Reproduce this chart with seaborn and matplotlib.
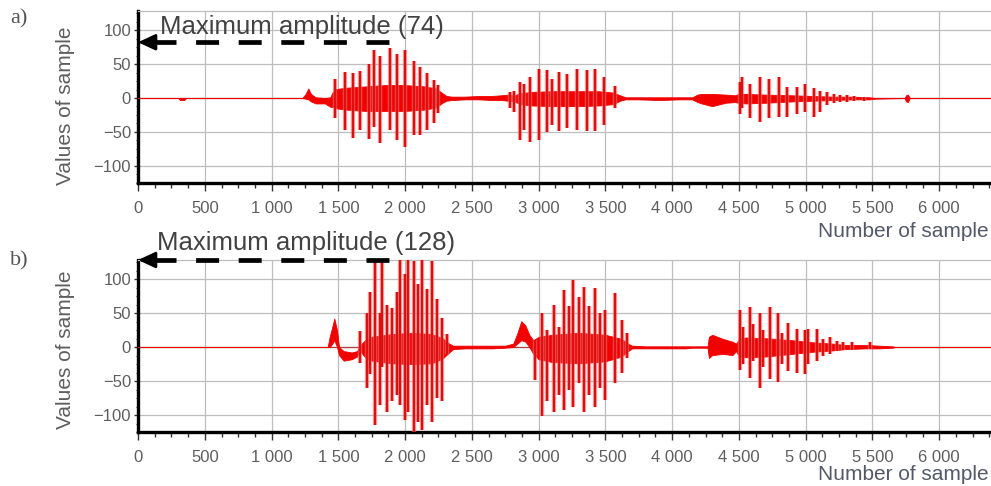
"""Two waveform panels (a, b) with the maximum amplitude marked."""
import numpy as np
import pandas as pd

import seaborn as sns
import matplotlib.pyplot as plt
from matplotlib.ticker import MultipleLocator, FuncFormatter

sns.set_theme(style="white")
plt.rcParams["font.family"] = ["Liberation Sans", "DejaVu Sans"]


# ---- panel a ----
A_SPIKE_X = [1476, 1551, 1613, 1663, 1726, 1764, 1813, 1888, 1938, 2000, 2063, 2113, 2163, 2213, 2250,
             2787, 2812, 2862, 2887, 2937, 2999, 3062, 3100, 3150, 3212, 3287, 3362, 3425, 3487, 3574,
             4510, 4522, 4585, 4660, 4722, 4797, 4860, 4935, 4997, 5060, 5110, 5160, 5210, 5260, 5310, 5360, 5435]
A_SPIKE_HI = [28, 38, 37, 40, 50, 70, 62, 74, 65, 70, 55, 45, 37, 26, 19,
              9, 11, 23, 21, 31, 43, 41, 28, 38, 36, 43, 41, 43, 31, 17,
              23, 31, 21, 31, 28, 31, 16, 16, 21, 14, 11, 9, 6, 4, 4, 3, 2]
A_SPIKE_LO = [-30, -47, -59, -47, -61, -43, -66, -47, -62, -72, -55, -55, -47, -37, -22,
              -15, -21, -62, -47, -64, -62, -50, -40, -48, -44, -47, -48, -48, -40, -15,
              -23, -15, -30, -35, -30, -28, -28, -23, -20, -28, -20, -11, -8, -6, -6, -5, -4]

A_ENV_X = [0, 300, 315, 345, 360, 1230, 1255, 1275, 1295, 1330, 1400, 1440, 1455, 1480, 1550,
           1700, 1850, 2000, 2150, 2230, 2280, 2310, 2350, 2450, 2550, 2650, 2720, 2770, 2820, 2860,
           2950, 3100, 3300, 3450, 3560, 3610, 3650, 3750, 3900, 4050, 4150, 4190, 4220, 4300, 4400,
           4470, 4500, 4550, 4700, 4900, 5050, 5200, 5350, 5480, 5520, 5740, 5752, 5765, 5780, 6400]
A_ENV_HI = [0, 0, 0, 0, 0, 0, 6, 14, 6, 1, 0, 1, 8, 13, 15,
            17, 19, 19, 17, 14, 7, 3, 2, 2, 3, 3, 4, 5, 4, 7,
            9, 10, 10, 10, 8, 4, 1, 1, 1, 1, 1, 5, 6, 6, 5,
            4, 6, 6, 5, 4, 3, 2, 2, 1, 0, 0, 4, 5, 0, 0]
A_ENV_LO = [0, 0, -3, -3, 0, 0, -1, -2, -5, -8, -8, -13, -13, -15, -17,
            -19, -19, -19, -17, -14, -7, -4, -3, -2, -2, -3, -3, -4, -5, -9,
            -11, -12, -12, -11, -9, -4, -2, -2, -3, -2, -2, -6, -8, -12, -7,
            -6, -7, -8, -7, -5, -4, -3, -2, -2, -1, 0, -5, -6, 0, 0]

# ---- panel b ----
B_SPIKE_X = [1663, 1713, 1738, 1775, 1813, 1825, 1863, 1900, 1938, 1963, 2000, 2025, 2063, 2100, 2125, 2163, 2200, 2238, 2276, 2313,
             2974, 3024, 3062, 3112, 3150, 3187, 3224, 3254, 3300, 3337, 3375, 3424, 3462, 3500, 3575, 3624, 3662,
             4507, 4530, 4582, 4607, 4657, 4680, 4732, 4795, 4820, 4870, 4932, 4995, 5020, 5082, 5132, 5182, 5232, 5282, 5345, 5482]
B_SPIKE_HI = [23, 50, 81, 128, 50, 128, 62, 57, 81, 128, 108, 128, 126, 93, 128, 86, 126, 71, 42, 19,
              10, 50, 25, 62, 30, 84, 60, 99, 74, 89, 60, 87, 50, 55, 79, 40, 20,
              54, 30, 59, 34, 50, 25, 59, 50, 20, 35, 26, 25, 27, 27, 12, 15, 9, 7, 7, 7]
B_SPIKE_LO = [-24, -60, -40, -115, -85, -30, -95, -80, -70, -85, -107, -95, -128, -110, -122, -85, -110, -75, -80, -10,
              -48, -102, -80, -95, -70, -92, -63, -88, -53, -95, -70, -88, -60, -78, -53, -38, -16,
              -34, -25, -45, -20, -60, -30, -47, -52, -25, -35, -38, -40, -25, -20, -13, -10, -6, -5, -4, -3]

B_ENV_X = [0, 1420, 1435, 1455, 1470, 1490, 1505, 1540, 1600, 1640, 1660, 1700, 1750, 1900, 2050,
           2200, 2280, 2330, 2360, 2450, 2550, 2650, 2750, 2810, 2840, 2870, 2900, 2930, 2960, 3000,
           3100, 3300, 3500, 3620, 3670, 3700, 3800, 3950, 4100, 4150, 4265, 4275, 4300, 4380, 4450,
           4480, 4500, 4550, 4700, 4900, 5050, 5200, 5300, 5450, 5550, 5650, 5670, 6400]
B_ENV_HI = [0, 0, 15, 30, 42, 25, 0, -6, -8, -6, 2, 10, 15, 19, 21,
            19, 13, 5, 2, 2, 2, 2, 2, 5, 20, 38, 32, 18, 10, 15,
            18, 21, 18, 12, 5, 2, 1, 1, 1, 1, 1, 15, 18, 12, 8,
            5, 12, 14, 13, 10, 7, 5, 3, 3, 2, 1, 0, 0]
B_ENV_LO = [0, 0, 0, 5, 10, 0, -12, -20, -18, -14, -5, -15, -20, -24, -25,
            -24, -17, -8, -3, -2, -2, -2, -1, 0, 5, 10, 8, 0, -10, -18,
            -22, -24, -21, -14, -6, -2, -2, -2, -2, -1, -1, -16, -12, -10, -12,
            -6, -14, -15, -14, -10, -7, -5, -3, -2, -2, -1, 0, 0]

MAX_AMP = [74, 128]
ARROW_Y = [82, 128]
PANEL_LABELS = ["a)", "b)"]

panels = [
    (pd.DataFrame(dict(x=A_ENV_X, hi=A_ENV_HI, lo=A_ENV_LO)),
     pd.DataFrame(dict(x=A_SPIKE_X, hi=A_SPIKE_HI, lo=A_SPIKE_LO))),
    (pd.DataFrame(dict(x=B_ENV_X, hi=B_ENV_HI, lo=B_ENV_LO)),
     pd.DataFrame(dict(x=B_SPIKE_X, hi=B_SPIKE_HI, lo=B_SPIKE_LO))),
]

SIG_RED = "#f20000"
GRID_GRAY = "#bdbdbd"
TXT_GRAY = "#5e5e5e"

fig = plt.figure(figsize=(9.91, 4.86), dpi=100)
ax_pos = [[0.1393, 0.6235, 0.861, 0.3539],
          [0.1393, 0.1111, 0.861, 0.3539]]
text_y = [94.6, 142.6]
text_x = [165, 142]
xlabel_y = [-0.227, -0.192]
ylabel_y = [0.448, 0.48]
label_fig_y = [1 - 9 / 486, 1 - 251 / 486]

thousands = FuncFormatter(lambda v, _: f"{int(v):,}".replace(",", " "))

for i, (env, spikes) in enumerate(panels):
    ax = fig.add_axes(ax_pos[i])

    ax.axhline(0, color="#b84040", lw=0.9, zorder=2)
    ax.fill_between(env["x"], env["lo"], env["hi"], color=SIG_RED, lw=0.6,
                    edgecolor=SIG_RED, zorder=3)
    # pale halo first, then the spike itself
    ax.vlines(spikes["x"], spikes["lo"], spikes["hi"], color="#f08080",
              lw=3.2, alpha=0.6, zorder=3)
    ax.vlines(spikes["x"], spikes["lo"], spikes["hi"], color="#dc1010",
              lw=1.7, zorder=4)

    ax.set_xlim(0, 6390)
    ax.set_ylim(-125, 128)
    ax.xaxis.set(major_locator=MultipleLocator(500),
                 minor_locator=MultipleLocator(125),
                 major_formatter=thousands)
    ax.yaxis.set(major_locator=MultipleLocator(50),
                 minor_locator=MultipleLocator(12.5))
    ax.set_yticks([-100, -50, 0, 50, 100])
    ax.grid(True, which="major", color=GRID_GRAY, lw=0.9, zorder=0)

    for side in ["left", "bottom"]:
        ax.spines[side].set(color="black", lw=2.4)
    ax.spines["top"].set(color=GRID_GRAY, lw=0.9)
    ax.spines["right"].set_visible(False)

    ax.tick_params(axis="x", which="major", direction="out", length=6, width=1,
                   color="#333333", pad=7, labelsize=12, labelcolor=TXT_GRAY,
                   bottom=True)
    ax.tick_params(axis="x", which="minor", direction="out", length=3.5, width=1,
                   color="#333333", bottom=True)
    ax.tick_params(axis="y", which="major", direction="out", length=3, width=1,
                   color="#333333", pad=2, labelsize=12, labelcolor=TXT_GRAY,
                   left=True)
    ax.tick_params(axis="y", which="minor", direction="out", length=1.5, width=0.8,
                   color="#333333", left=True)

    ax.set_ylabel("Values of sample", fontsize=15, color=TXT_GRAY)
    ax.yaxis.set_label_coords(-0.074, ylabel_y[i])
    ax.set_xlabel("Number of sample", fontsize=15, color="#535968")
    ax.xaxis.set_label_coords(0.997, xlabel_y[i])
    ax.xaxis.label.set_ha("right")

    # dashed arrow pointing at the maximum amplitude on the y axis
    ax.plot([112, 1880], [ARROW_Y[i], ARROW_Y[i]], color="black", lw=3.4,
            linestyle=(0, (4.87, 4.15)), solid_capstyle="butt",
            dash_capstyle="butt", clip_on=False, zorder=5)
    ax.annotate("", xy=(0, ARROW_Y[i]), xytext=(130, ARROW_Y[i]),
                arrowprops=dict(arrowstyle="-|>,head_length=0.75,head_width=0.35",
                                color="black", lw=2, shrinkA=0, shrinkB=0,
                                mutation_scale=14),
                annotation_clip=False, zorder=6)
    ax.text(text_x[i], text_y[i], f"Maximum amplitude ({MAX_AMP[i]})",
            fontsize=18.5, color="#424242", ha="left", va="baseline",
            clip_on=False, zorder=6)

    fig.text(10 / 991, label_fig_y[i], PANEL_LABELS[i], fontsize=16,
             family=["Liberation Serif", "DejaVu Serif"], color="#555555",
             ha="left", va="top")

fig.savefig("out.png", dpi=100)
plt.close(fig)
